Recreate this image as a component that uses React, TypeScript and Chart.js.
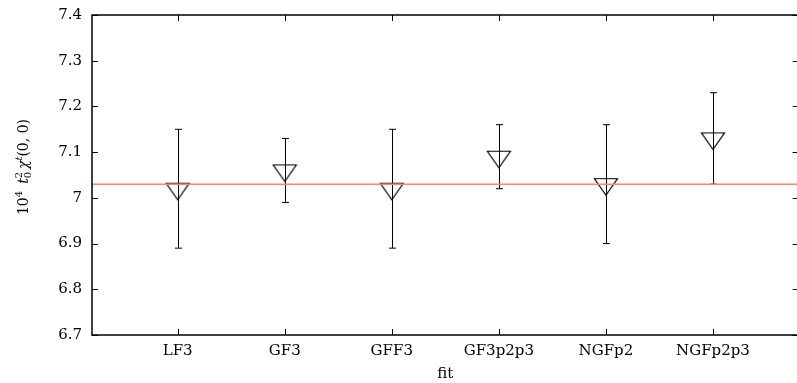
import React, { useEffect, useRef } from "react";
import { Chart, registerables } from "chart.js";
Chart.register(...registerables);

const categories = ["LF3", "GF3", "GFF3", "GF3p2p3", "NGFp2", "NGFp2p3"];
const values = [7.02, 7.06, 7.02, 7.09, 7.03, 7.13];
const errors = [0.13, 0.07, 0.13, 0.07, 0.13, 0.1];
const referenceValue = 7.03;
const xRange = [0.2, 6.8];
const yTicks = [6.7, 6.8, 6.9, 7.0, 7.1, 7.2, 7.3, 7.4];
const xTitle = "fit";

const SERIF = "'DejaVu Serif', serif";

function makeTriangle(): HTMLCanvasElement {
  const c = document.createElement("canvas");
  c.width = 26;
  c.height = 26;
  const ctx = c.getContext("2d")!;
  ctx.strokeStyle = "#000";
  ctx.lineWidth = 1.2;
  ctx.beginPath();
  ctx.moveTo(1.5, 7.5);
  ctx.lineTo(24.5, 7.5);
  ctx.lineTo(13, 24);
  ctx.closePath();
  ctx.stroke();
  return c;
}

const errorBarPlugin = {
  id: "errorBars",
  beforeDatasetsDraw(chart: any) {
    const { ctx } = chart;
    const xs = chart.scales.x;
    const ys = chart.scales.y;
    ctx.save();
    ctx.strokeStyle = "#000";
    ctx.lineWidth = 1;
    values.forEach((v, i) => {
      const x = Math.round(xs.getPixelForValue(i + 1)) + 0.5;
      const yt = ys.getPixelForValue(v + errors[i]);
      const yb = ys.getPixelForValue(v - errors[i]);
      ctx.beginPath();
      ctx.moveTo(x, yt);
      ctx.lineTo(x, yb);
      ctx.moveTo(x - 3.5, yt);
      ctx.lineTo(x + 3.5, yt);
      ctx.moveTo(x - 3.5, yb);
      ctx.lineTo(x + 3.5, yb);
      ctx.stroke();
    });
    ctx.restore();
  },
};

const framePlugin = {
  id: "frameTicks",
  afterDraw(chart: any) {
    const { ctx, chartArea: a } = chart;
    const xs = chart.scales.x;
    const ys = chart.scales.y;
    ctx.save();
    ctx.strokeStyle = "#000";
    ctx.lineWidth = 1;
    ctx.beginPath();
    const tl = 6;
    ys.ticks.forEach((t: any) => {
      const y = Math.round(ys.getPixelForValue(t.value)) + 0.5;
      ctx.moveTo(a.left, y);
      ctx.lineTo(a.left + tl, y);
      ctx.moveTo(a.right, y);
      ctx.lineTo(a.right - tl, y);
    });
    xs.ticks.forEach((t: any) => {
      const x = Math.round(xs.getPixelForValue(t.value)) + 0.5;
      ctx.moveTo(x, a.bottom);
      ctx.lineTo(x, a.bottom - tl);
      ctx.moveTo(x, a.top);
      ctx.lineTo(x, a.top + tl);
    });
    ctx.stroke();
    ctx.lineWidth = 1.5;
    ctx.strokeRect(a.left, a.top, a.right - a.left, a.bottom - a.top);
    ctx.restore();
  },
};

const yLabelPlugin = {
  id: "yLabel",
  afterDraw(chart: any) {
    const { ctx, chartArea: a } = chart;
    const main = "14px " + SERIF;
    const mainIt = "italic 14px " + SERIF;
    const small = "10px " + SERIF;
    const smallIt = "italic 10px " + SERIF;
    type Piece = { t: string; f: string; dy: number; adv: boolean };
    const pieces: Piece[] = [
      { t: "10", f: main, dy: 0, adv: true },
      { t: "4", f: small, dy: -6, adv: true },
      { t: "\u2002", f: main, dy: 0, adv: true },
      { t: "t", f: mainIt, dy: 0, adv: true },
      { t: "2", f: small, dy: -6, adv: false },
      { t: "0", f: small, dy: 3, adv: true },
      { t: "\u2009", f: main, dy: 0, adv: true },
      { t: "\u03c7", f: mainIt, dy: 0, adv: true },
      { t: "t", f: smallIt, dy: -6, adv: true },
      { t: "(0, 0)", f: main, dy: 0, adv: true },
    ];
    ctx.save();
    let total = 0;
    pieces.forEach((p) => {
      ctx.font = p.f;
      if (p.adv) total += ctx.measureText(p.t).width;
    });
    const cy = (a.top + a.bottom) / 2 - 8;
    ctx.translate(28, cy + total / 2);
    ctx.rotate(-Math.PI / 2);
    ctx.fillStyle = "#000";
    ctx.textBaseline = "alphabetic";
    ctx.textAlign = "left";
    let x = 0;
    pieces.forEach((p) => {
      ctx.font = p.f;
      ctx.fillText(p.t, x, p.dy);
      if (p.adv) x += ctx.measureText(p.t).width;
    });
    ctx.restore();
  },
};

export default function App() {
  const ref = useRef<HTMLCanvasElement | null>(null);
  useEffect(() => {
    if (!ref.current) return;
    const tri = makeTriangle();
    const chart = new Chart(ref.current, {
      type: "scatter",
      data: {
        datasets: [
          {
            label: "reference",
            type: "line",
            data: [
              { x: xRange[0], y: referenceValue },
              { x: xRange[1], y: referenceValue },
            ],
            borderColor: "#ff8080",
            borderWidth: 1.5,
            pointRadius: 0,
            showLine: true,
            fill: false,
          } as any,
          {
            label: "fits",
            data: values.map((v, i) => ({ x: i + 1, y: v })),
            pointStyle: tri as any,
            pointRadius: 12,
            showLine: false,
          },
        ],
      },
      options: {
        animation: false,
        responsive: false,
        layout: { autoPadding: false, padding: { top: 15, right: 1.4, left: 0, bottom: 0 } },
        plugins: { legend: { display: false }, tooltip: { enabled: false } },
        scales: {
          x: {
            type: "linear",
            min: xRange[0],
            max: xRange[1],
            afterBuildTicks: (s: any) => {
              s.ticks = categories.map((_, i) => ({ value: i + 1 }));
            },
            afterFit: (s: any) => {
              s.height = 48;
              s.paddingLeft = 0;
              s.paddingRight = 0;
            },
            grid: { display: false, drawTicks: false },
            border: { display: false },
            ticks: {
              autoSkip: false,
              maxRotation: 0,
              padding: 7,
              color: "#000",
              font: { family: SERIF, size: 15 },
              callback: (v: any) => categories[Math.round(Number(v)) - 1] ?? "",
            },
            title: {
              display: true,
              text: xTitle,
              color: "#000",
              font: { family: SERIF, size: 15 },
              padding: { top: 0, bottom: 0 },
            },
          },
          y: {
            type: "linear",
            min: yTicks[0],
            max: yTicks[yTicks.length - 1],
            afterBuildTicks: (s: any) => {
              s.ticks = yTicks.map((v) => ({ value: v }));
            },
            afterFit: (s: any) => {
              s.width = 92;
              s.paddingTop = 0;
              s.paddingBottom = 0;
            },
            grid: { display: false, drawTicks: false },
            border: { display: false },
            ticks: {
              padding: 10,
              color: "#000",
              font: { family: SERIF, size: 15 },
              callback: (v: any) => String(parseFloat(Number(v).toFixed(1))),
            },
          },
        },
      },
      plugins: [errorBarPlugin, framePlugin, yLabelPlugin],
    });
    return () => chart.destroy();
  }, []);
  return (
    <div style={{ position: "fixed", left: 0, top: 0, width: 800, height: 383 }}>
      <canvas ref={ref} width={800} height={383} style={{ width: 800, height: 383, display: "block" }} />
    </div>
  );
}
